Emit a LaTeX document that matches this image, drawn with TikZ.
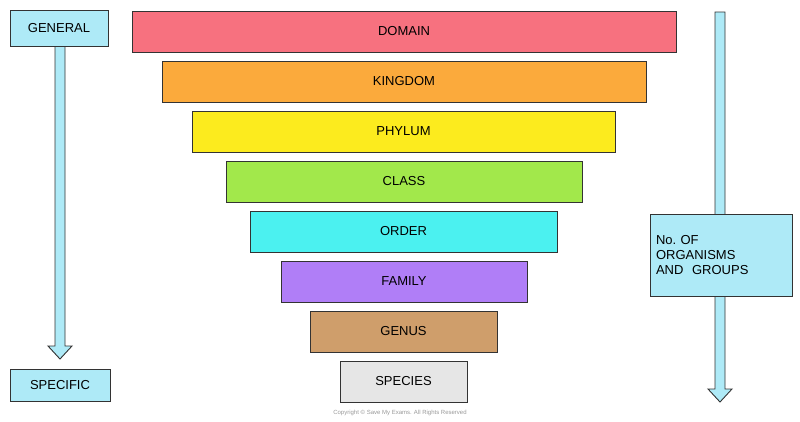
\documentclass[tikz,border=0pt]{standalone}
\usepackage{fontspec}
\setmainfont{Liberation Sans}
\definecolor{cdom}{HTML}{F7717F}
\definecolor{ckin}{HTML}{FBAA3C}
\definecolor{cphy}{HTML}{FCEB1E}
\definecolor{ccla}{HTML}{A2E84B}
\definecolor{cord}{HTML}{4BF1F0}
\definecolor{cfam}{HTML}{B07EF7}
\definecolor{cgen}{HTML}{CF9E6B}
\definecolor{cspe}{HTML}{E6E6E6}
\definecolor{lblue}{HTML}{AEEAF7}
\begin{document}
\begin{tikzpicture}[x=1pt,y=-1pt,
  bar/.style={draw=black!80,line width=0.9pt,font=\fontsize{13}{15}\selectfont},
  lbl/.style={draw=black!80,line width=0.9pt,fill=lblue,font=\fontsize{13}{15}\selectfont,align=left},
  bigarrow/.style={draw=black!80,line width=0.9pt,fill=lblue}]
\useasboundingbox (0,0) rectangle (800,421);
\def\bar#1#2#3#4#5#6{\draw[bar,fill=#5] (#1,#3) rectangle (#2,#4) node[midway] (#6) {#6};}
\bar{132}{676}{11}{52}{cdom}{DOMAIN}
\bar{162}{646}{61}{102}{ckin}{KINGDOM}
\bar{192}{615}{111}{152}{cphy}{PHYLUM}
\bar{226}{582}{161}{202}{ccla}{CLASS}
\bar{250}{557}{211}{252}{cord}{ORDER}
\bar{281}{527}{261}{302}{cfam}{FAMILY}
\bar{310}{497}{311}{352}{cgen}{GENUS}
\bar{340}{467}{361}{402}{cspe}{SPECIES}
% left arrow
\draw[bigarrow] (55,46) -- (65,46) -- (65,346) -- (72,346) -- (60,359) -- (48,346) -- (55,346) -- cycle;
\node[lbl,minimum width=98pt,minimum height=36pt] (gen) at (59,28) {GENERAL};
\node[lbl,minimum width=100pt,minimum height=32pt] (spec) at (60,385) {SPECIFIC};
% right arrow
\draw[bigarrow] (715,12) -- (725,12) -- (725,389) -- (732,389) -- (720,402) -- (708,389) -- (715,389) -- cycle;
\node[lbl,minimum width=142pt,minimum height=82pt,text width=130pt] (org) at (721,255) {No.\ OF\\ORGANISMS\\AND\ \ GROUPS};
\node[text=black!40,font=\fontsize{6}{7}\selectfont] (copy) at (400,413) {Copyright © Save My Exams. All Rights Reserved};
\end{tikzpicture}
\end{document}
